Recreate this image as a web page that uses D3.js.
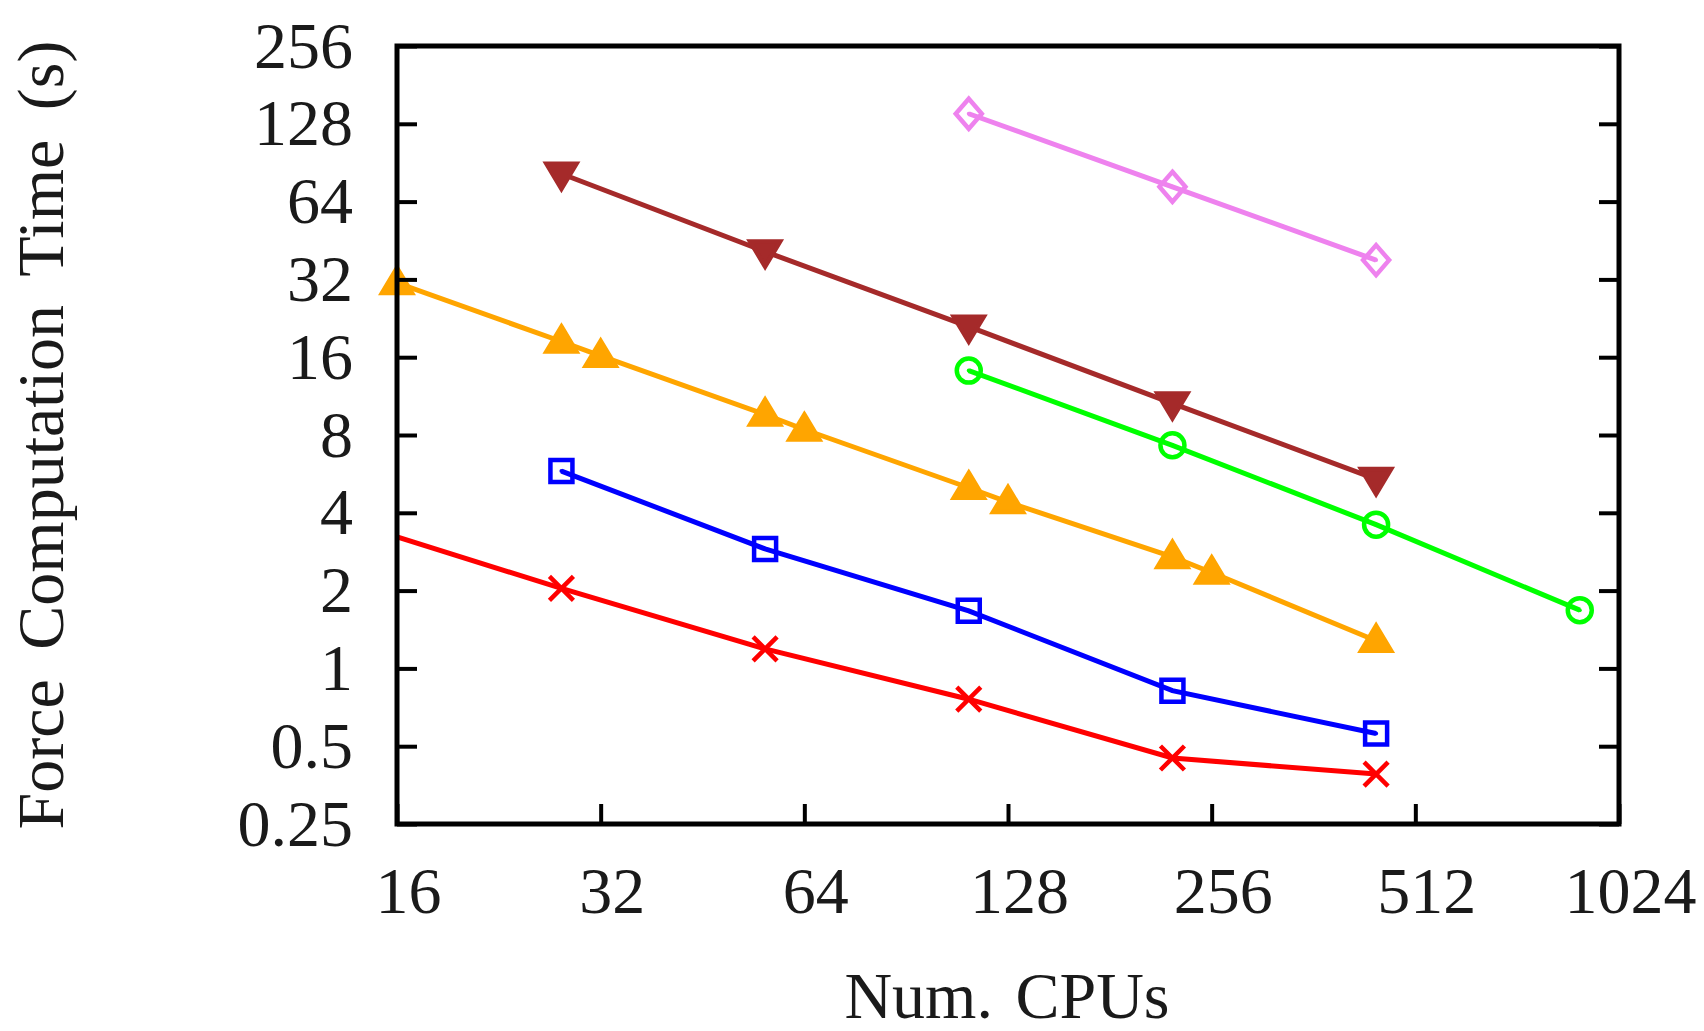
<!DOCTYPE html>
<html>
<head>
<meta charset="utf-8">
<script src="https://cdn.jsdelivr.net/npm/d3@7"></script>
<style>
body { margin: 0; background: #fff; }
text { font-family: "Liberation Serif", "DejaVu Serif", serif; fill: #1a1a1a; }
</style>
</head>
<body>
<script>
// values (log2 axes)
var xTicks = [16, 32, 64, 128, 256, 512, 1024];
var yTicks = [0.25, 0.5, 1, 2, 4, 8, 16, 32, 64, 128, 256];

var redCpus = [14, 28, 56, 112, 224, 448];
var redTime = [3.6, 2.04, 1.19, 0.76, 0.45, 0.39];
var blueCpus = [28, 56, 112, 224, 448];
var blueTime = [5.8, 2.9, 1.67, 0.82, 0.56];
var orangeCpus = [16, 28, 32, 56, 64, 112, 128, 224, 256, 448];
var orangeTime = [31, 18.4, 16.2, 9.6, 8.4, 5.0, 4.4, 2.7, 2.35, 1.28];
var brownCpus = [28, 56, 112, 224, 448];
var brownTime = [82, 41, 21, 10.6, 5.4];
var greenCpus = [112, 224, 448, 896];
var greenTime = [14.2, 7.3, 3.6, 1.68];
var violetCpus = [112, 224, 448];
var violetTime = [140, 73, 38];

var series = [
  {cpus: redCpus, time: redTime, color: '#ff0000', shape: 'cross'},
  {cpus: blueCpus, time: blueTime, color: '#0000ff', shape: 'square'},
  {cpus: orangeCpus, time: orangeTime, color: '#ffa500', shape: 'up'},
  {cpus: brownCpus, time: brownTime, color: '#a52a2a', shape: 'down'},
  {cpus: greenCpus, time: greenTime, color: '#00ff00', shape: 'circle'},
  {cpus: violetCpus, time: violetTime, color: '#ee82ee', shape: 'diamond'}
];

var margin = {top: 46, right: 85, bottom: 207, left: 397};
var width = 1704 - margin.left - margin.right;
var height = 1031 - margin.top - margin.bottom;

var x = d3.scaleLog().base(2).domain([16, 1024]).range([0, width]);
var y = d3.scaleLog().base(2).domain([0.25, 256]).range([height, 0]);

var svg = d3.select('body').append('svg')
  .attr('width', 1704)
  .attr('height', 1031);

var main = svg.append('g')
  .attr('transform', 'translate(' + margin.left + ',' + margin.top + ')');

main.append('clipPath').attr('id', 'plotclip')
  .append('rect').attr('width', width).attr('height', height);

// marker outlines, centred on 0,0
function markerPath(shape) {
  if (shape === 'cross') return 'M-12,-12L12,12M-12,12L12,-12';
  if (shape === 'square') return 'M-11,-11H11V11H-11Z';
  if (shape === 'up') return 'M0,-15L15,10H-15Z';
  if (shape === 'down') return 'M0,15L15,-10H-15Z';
  if (shape === 'circle') return 'M12,0A12,12 0 1,1 -12,0A12,12 0 1,1 12,0Z';
  if (shape === 'diamond') return 'M0,-15L13,0L0,15L-13,0Z';
}

var line = d3.line()
  .x(function(d) { return x(d[0]); })
  .y(function(d) { return y(d[1]); });

series.forEach(function(s) {
  var pts = s.cpus.map(function(c, i) { return [c, s.time[i]]; });
  main.append('path')
    .datum(pts)
    .attr('clip-path', 'url(#plotclip)')
    .attr('d', line)
    .attr('fill', 'none')
    .attr('stroke', s.color)
    .attr('stroke-width', 5);

  var filled = s.shape === 'up' || s.shape === 'down';
  var g = main.append('g');
  g.selectAll('path')
    .data(pts.filter(function(d) { return d[0] >= 16 && d[0] <= 1024; }))
    .enter().append('path')
    .attr('transform', function(d) { return 'translate(' + x(d[0]) + ',' + y(d[1]) + ')'; })
    .attr('d', markerPath(s.shape))
    .attr('fill', filled ? s.color : 'none')
    .attr('stroke', s.color)
    .attr('stroke-width', 4.5)
    .attr('stroke-linejoin', 'miter');
  if (!filled && s.shape !== 'cross') {
    g.selectAll('circle')
      .data(pts.filter(function(d) { return d[0] >= 16; }))
      .enter().append('circle')
      .attr('cx', function(d) { return x(d[0]); })
      .attr('cy', function(d) { return y(d[1]); })
      .attr('r', 2)
      .attr('fill', s.color);
  }
});

var xaxis = d3.axisBottom(x)
  .tickValues(xTicks)
  .tickFormat(function(d) { return d; })
  .tickSizeInner(-20).tickSizeOuter(0).tickPadding(42);

var xg = main.append('g')
  .attr('transform', 'translate(0,' + height + ')')
  .call(xaxis);
xg.selectAll('text').attr('x', 11);

var yaxis = d3.axisLeft(y)
  .tickValues(yTicks)
  .tickFormat(function(d) { return d; })
  .tickSizeInner(-20).tickSizeOuter(0).tickPadding(44);

var yg = main.append('g').call(yaxis);

var yg2 = main.append('g')
  .attr('transform', 'translate(' + width + ',0)')
  .call(d3.axisRight(y).tickValues(yTicks).tickFormat('').tickSizeInner(-20).tickSizeOuter(0));

[xg, yg, yg2].forEach(function(a) {
  a.select('.domain').remove();
  a.selectAll('line').attr('stroke', '#000').attr('stroke-width', 4);
  a.selectAll('text').attr('font-size', 66).attr('font-family', '"Liberation Serif", serif').attr('fill', '#1a1a1a');
});

main.append('rect')
  .attr('width', width)
  .attr('height', height)
  .attr('fill', 'none')
  .attr('stroke', '#000')
  .attr('stroke-width', 5);

svg.append('text')
  .attr('x', 1007)
  .attr('y', 1018)
  .attr('font-size', 66)
  .style('text-anchor', 'middle')
  .style('word-spacing', '6px')
  .text('Num. CPUs');

svg.append('text')
  .attr('transform', 'translate(63,435) rotate(-90)')
  .attr('font-size', 66)
  .style('text-anchor', 'middle')
  .style('word-spacing', '13px')
  .text('Force Computation Time (s)');
</script>
</body>
</html>
